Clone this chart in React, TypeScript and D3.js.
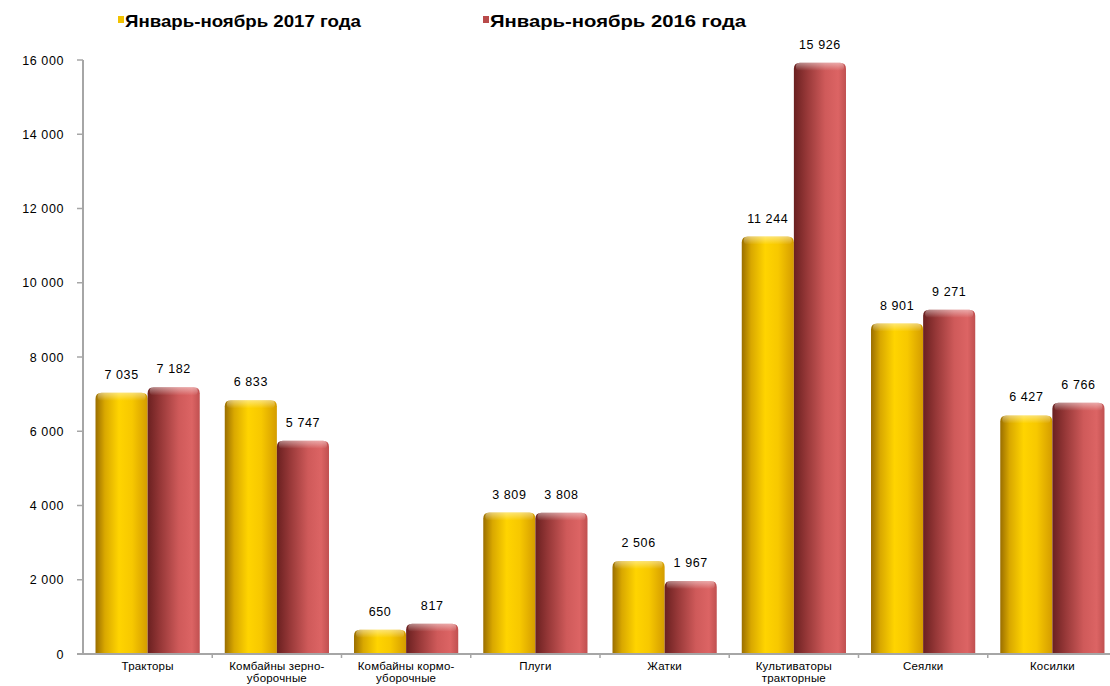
import React from "react";
import * as d3 from "d3";

const categories: string[][] = [
  ["Тракторы"],
  ["Комбайны зерно-", "уборочные"],
  ["Комбайны кормо-", "уборочные"],
  ["Плуги"],
  ["Жатки"],
  ["Культиваторы", "тракторные"],
  ["Сеялки"],
  ["Косилки"],
];
const values2017: number[] = [7035, 6833, 650, 3809, 2506, 11244, 8901, 6427];
const values2016: number[] = [7182, 5747, 817, 3808, 1967, 15926, 9271, 6766];
const seriesNames: string[] = ["Январь-ноябрь 2017 года", "Январь-ноябрь 2016 года"];
const yTicks: number[] = [0, 2000, 4000, 6000, 8000, 10000, 12000, 14000, 16000];

const W = 1110;
const H = 686;
const left = 83;
const right = 1117;
const top = 60;
const bottom = 654;

const fmt = (v: number) => d3.format(",")(v).replace(/,/g, "\u00a0");

export default function App() {
  const x0 = d3
    .scaleBand<number>()
    .domain(d3.range(categories.length))
    .range([left, right])
    .padding(0);
  const x1 = d3
    .scaleBand<number>()
    .domain([0, 1])
    .range([0, x0.bandwidth()])
    .paddingInner(0)
    .paddingOuter(0.24);
  const y = d3.scaleLinear().domain([0, 16000]).range([bottom, top]);
  const series = [values2017, values2016];
  const fills = ["url(#gYellow)", "url(#gRed)"];
  const legendColors = ["#f2c200", "#b94a4a"];

  const barPath = (x: number, w: number, yTop: number) => {
    const r = Math.min(6, (bottom - yTop) / 2);
    return `M${x},${bottom} L${x},${yTop + r} Q${x},${yTop} ${x + r},${yTop} L${x + w - r},${yTop} Q${x + w},${yTop} ${x + w},${yTop + r} L${x + w},${bottom} Z`;
  };

  return (
    <svg
      width={W}
      height={H}
      style={{ position: "absolute", left: 0, top: 0, background: "#fff" }}
      fontFamily="'Liberation Sans', Arial, sans-serif"
    >
      <defs>
        <linearGradient id="gYellow" x1="0" x2="1" y1="0" y2="0">
          <stop offset="0%" stopColor="#9a6e00" />
          <stop offset="18%" stopColor="#d9a800" />
          <stop offset="45%" stopColor="#ffd400" />
          <stop offset="70%" stopColor="#f7c800" />
          <stop offset="100%" stopColor="#d49c00" />
        </linearGradient>
        <linearGradient id="gRed" x1="0" x2="1" y1="0" y2="0">
          <stop offset="0%" stopColor="#6a2020" />
          <stop offset="25%" stopColor="#973838" />
          <stop offset="60%" stopColor="#cf5a5a" />
          <stop offset="85%" stopColor="#dc6464" />
          <stop offset="100%" stopColor="#c05050" />
        </linearGradient>
        <linearGradient id="gTop" x1="0" x2="0" y1="0" y2="1">
          <stop offset="0%" stopColor="#ffffff" stopOpacity={0.45} />
          <stop offset="100%" stopColor="#ffffff" stopOpacity={0} />
        </linearGradient>
      </defs>

      {/* Legend */}
      {seriesNames.map((name, i) => {
        const lx = i === 0 ? 118 : 483;
        return (
          <g key={name}>
            <rect x={lx} y={16} width={6} height={7} fill={legendColors[i]} />
            <text
              x={lx + 7}
              y={27}
              fontSize={17}
              fontWeight="bold"
              fontFamily="'Liberation Sans Narrow', 'Liberation Sans', Arial, sans-serif"
              textLength={i === 0 ? 236 : 256}
              lengthAdjust="spacingAndGlyphs"
              fill="#000"
            >
              {name}
            </text>
          </g>
        );
      })}

      {/* Y axis */}
      <line x1={left} x2={left} y1={top} y2={bottom} stroke="#a6a6a6" strokeWidth={2} />
      {yTicks.map((t) => (
        <g key={t}>
          <line x1={left - 6} x2={left} y1={y(t)} y2={y(t)} stroke="#a6a6a6" strokeWidth={1.5} />
          <text
            x={left - 19}
            y={y(t) + 4.5}
            textAnchor="end"
            fontSize={12.5}
            letterSpacing={0.6}
            fill="#000"
          >
            {fmt(t)}
          </text>
        </g>
      ))}

      {/* Bars */}
      {categories.map((_, ci) =>
        series.map((vals, si) => {
          const bx = (x0(ci) as number) + (x1(si) as number);
          const bw = x1.bandwidth();
          const yt = y(vals[ci]);
          return (
            <g key={`${ci}-${si}`}>
              <path d={barPath(bx, bw, yt)} fill={fills[si]} />
              <rect x={bx + 2} y={yt} width={bw - 4} height={Math.min(8, bottom - yt)} rx={4} fill="url(#gTop)" />
              <text
                x={bx + bw / 2}
                y={yt - 14}
                textAnchor="middle"
                fontSize={12.5}
                letterSpacing={0.6}
                fill="#000"
              >
                {fmt(vals[ci])}
              </text>
            </g>
          );
        })
      )}

      {/* X axis */}
      <line x1={left - 6} x2={right} y1={bottom} y2={bottom} stroke="#a6a6a6" strokeWidth={2} />
      {d3.range(1, categories.length).map((i) => (
        <line
          key={i}
          x1={x0(i) as number}
          x2={x0(i) as number}
          y1={bottom}
          y2={bottom + 4}
          stroke="#a6a6a6"
          strokeWidth={1.5}
        />
      ))}
      {categories.map((lines, ci) => (
        <text
          key={ci}
          x={(x0(ci) as number) + x0.bandwidth() / 2}
          y={670}
          textAnchor="middle"
          fontSize={11.5}
          letterSpacing={0.2}
          fill="#000"
        >
          {lines.map((l, li) => (
            <tspan key={li} x={(x0(ci) as number) + x0.bandwidth() / 2} dy={li === 0 ? 0 : 12}>
              {l}
            </tspan>
          ))}
        </text>
      ))}
    </svg>
  );
}
